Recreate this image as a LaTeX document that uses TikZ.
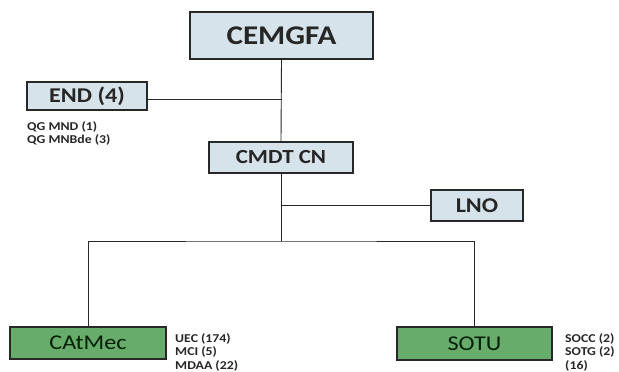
\documentclass[tikz,border=0pt]{standalone}
\usepackage{fontspec}
\setmainfont{Carlito}[FakeStretch=1.15]
\usepackage{tikz}
\usetikzlibrary{positioning}
\definecolor{boxblue}{RGB}{214,227,234}
\definecolor{boxgreen}{RGB}{104,172,108}
\definecolor{lineclr}{RGB}{40,40,40}
\tikzstyle{block}=[draw=lineclr, line width=1.6pt, fill=boxblue, rectangle, text=black!85, font=\bfseries, inner sep=0pt]
\tikzstyle{greenblock}=[block, fill=boxgreen, text=black!80!green!60!black, font=\normalfont]
\tikzstyle{note}=[anchor=north west, align=left, inner sep=0pt, font=\bfseries\fontsize{12}{13.5}\selectfont, text=black!85]
\tikzstyle{link}=[draw=lineclr, line width=0.9pt]

\begin{document}
\begin{tikzpicture}[x=1pt, y=-1pt]
    \clip (0,0) rectangle (619,372);
    \node [block, minimum width=183pt, minimum height=47pt, font=\bfseries\fontsize{27}{32}\selectfont] (cemgfa) at (281.5,35.5) {CEMGFA};
    \node [block, minimum width=120pt, minimum height=28pt, font=\bfseries\fontsize{21}{25}\selectfont] (endb) at (87,96) {END (4)};
    \node [block, minimum width=144pt, minimum height=31pt, font=\bfseries\fontsize{20}{24}\selectfont] (cmdt) at (281,157.5) {CMDT CN};
    \node [block, minimum width=92pt, minimum height=31pt, font=\bfseries\fontsize{21}{25}\selectfont] (lno) at (477,205.5) {LNO};
    \node [greenblock, minimum width=156pt, minimum height=32pt, font=\fontsize{21}{25}\selectfont] (catmec) at (88,343) {CAtMec};
    \node [greenblock, minimum width=155pt, minimum height=33pt, font=\fontsize{21}{25}\selectfont] (sotu) at (474.5,343.5) {SOTU};
    % notes beside the boxes
    \node [note] (endnote) at (27,121) {QG MND (1)\\QG MNBde (3)};
    \node [note] (catnote) at (175,333) {UEC (174)\\MCI (5)\\MDAA (22)};
    \node [note] (sotunote) at (565,333) {SOCC (2)\\SOTG (2)\\(16)};
    % connectors
    \coordinate (bus) at (281,241);
    \path [link] (cemgfa.south) -- (cmdt.north);
    \path [link] (endb.east) ++(0,3) -- ++(134,0);
    \path [link] (cmdt.south) -- (bus);
    \path [link] (lno.west) -- (lno.west -| cmdt.south);
    \path [link] (catmec.north) |- (bus) -| (sotu.north);
\end{tikzpicture}
\end{document}
